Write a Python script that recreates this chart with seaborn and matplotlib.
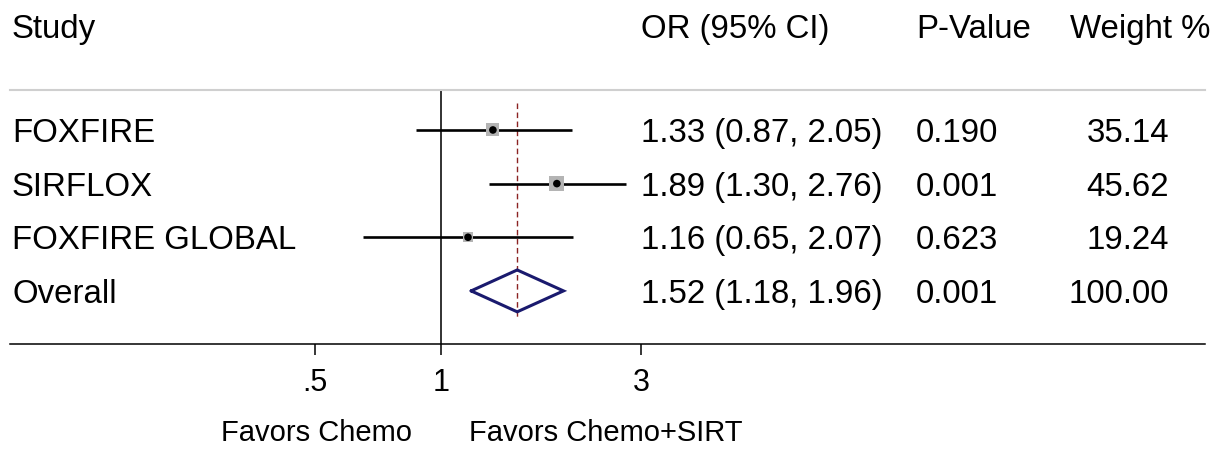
import numpy as np
import pandas as pd
import matplotlib
matplotlib.use("Agg")
import matplotlib.pyplot as plt
import matplotlib.transforms as mtransforms
import seaborn as sns

# ---- data ----
studies = ["FOXFIRE", "SIRFLOX", "FOXFIRE GLOBAL"]
or_est = [1.33, 1.89, 1.16]
ci_low = [0.87, 1.30, 0.65]
ci_high = [2.05, 2.76, 2.07]
p_values = ["0.190", "0.001", "0.623"]
weights = [35.14, 45.62, 19.24]

overall_label = "Overall"
overall_est = 1.52
overall_low = 1.18
overall_high = 1.96
overall_p = "0.001"
overall_weight = 100.00

headers = ["Study", "OR (95% CI)", "P-Value", "Weight %"]
tick_values = [0.5, 1, 3]
tick_labels = [".5", "1", "3"]
left_note = "Favors Chemo"
right_note = "Favors Chemo+SIRT"

# ---- figure ----
W, H, DPI = 1225, 454, 100
sns.set_theme(style="white")
plt.rcParams["font.family"] = ["Liberation Sans", "DejaVu Sans"]
plt.rcParams["text.color"] = "black"
plt.rcParams["xtick.color"] = "black"
plt.rcParams["xtick.labelcolor"] = "black"
fig = plt.figure(figsize=(W / DPI, H / DPI), dpi=DPI)

ax_left, ax_right, ax_top, ax_bot = 10, 1205, 90, 344
ax = fig.add_axes([ax_left / W, 1 - ax_bot / H, (ax_right - ax_left) / W, (ax_bot - ax_top) / H])

df = pd.DataFrame({"study": studies, "est": or_est, "lo": ci_low, "hi": ci_high,
                   "w": weights, "row": np.arange(1, len(studies) + 1)})
overall_row = len(studies) + 1

ax.set_xscale("log")
px_per_ln = 182.0
x_one_px = 441.0
ax.set_xlim(np.exp((ax_left - x_one_px) / px_per_ln), np.exp((ax_right - x_one_px) / px_per_ln))
ax.set_ylim(4.99, 0.255)

# confidence intervals
for _, r in df.iterrows():
    ax.plot([r.lo, r.hi], [r.row, r.row], color="black", lw=1.9, solid_capstyle="butt", zorder=2)

# weight squares (side in px ~ 2.2*sqrt(w))
areas = {w: (2.2 * np.sqrt(w) * 0.72) ** 2 for w in weights}
sns.scatterplot(data=df, x="est", y="row", size="w", sizes=areas, marker="s",
                color="#b4b4b4", edgecolor="none", legend=False, ax=ax, zorder=3)
sns.scatterplot(data=df, x="est", y="row", s=30, color="black", edgecolor="none",
                legend=False, ax=ax, zorder=4)

# overall diamond
hh = 0.39
ax.plot([overall_low, overall_est, overall_high, overall_est, overall_low],
        [overall_row, overall_row - hh, overall_row, overall_row + hh, overall_row],
        color="#1a1a6e", lw=2.2, zorder=4, solid_joinstyle="miter")

# reference lines
ax.axvline(1, color="#222222", lw=1.3, zorder=1)
ax.plot([overall_est, overall_est], [0.5, 4.48], color="#8b2323", lw=1.0,
        dashes=(4, 2.5), zorder=1)

# spines
for s in ["left", "right"]:
    ax.spines[s].set_visible(False)
ax.spines["top"].set_color("#cfcfcf")
ax.spines["top"].set_linewidth(1.5)
ax.spines["bottom"].set_color("black")
ax.spines["bottom"].set_linewidth(1.1)

ax.set_xticks(tick_values)
ax.set_xticklabels(tick_labels)
ax.xaxis.set_minor_locator(matplotlib.ticker.NullLocator())
ax.tick_params(axis="x", direction="out", length=8, width=1.1, color="black",
               labelcolor="black", labelsize=22, pad=9, bottom=True)
ax.set_yticks([])
ax.set_xlabel("")
ax.set_ylabel("")

# text columns (x in figure pixels, y in data; baseline 13 px below row centre)
def px(x):
    return x / W

trans = mtransforms.blended_transform_factory(fig.transFigure, ax.transData)
trans = mtransforms.offset_copy(trans, fig=fig, y=-12, units="dots")
fs = 23.8
all_labels = studies + [overall_label]
all_or = [f"{e:.2f} ({l:.2f}, {h:.2f})" for e, l, h in zip(or_est, ci_low, ci_high)] + \
         [f"{overall_est:.2f} ({overall_low:.2f}, {overall_high:.2f})"]
all_p = p_values + [overall_p]
all_w = [f"{w:.2f}" for w in weights] + [f"{overall_weight:.2f}"]
for i in range(len(all_labels)):
    y = i + 1
    ax.text(px(12), y, all_labels[i], transform=trans, ha="left", va="baseline", fontsize=fs)
    ax.text(px(641), y, all_or[i], transform=trans, ha="left", va="baseline", fontsize=fs)
    ax.text(px(916), y, all_p[i], transform=trans, ha="left", va="baseline", fontsize=fs)
    ax.text(px(1169), y, all_w[i], transform=trans, ha="right", va="baseline", fontsize=fs)

# headers
hy = 1 - 38 / H
fig.text(px(12), hy, headers[0], ha="left", va="baseline", fontsize=fs)
fig.text(px(641), hy, headers[1], ha="left", va="baseline", fontsize=fs)
fig.text(px(916), hy, headers[2], ha="left", va="baseline", fontsize=fs)
fig.text(px(1210), hy, headers[3], ha="right", va="baseline", fontsize=fs)

# favors notes
ny = 1 - 441 / H
fig.text(px(412), ny, left_note, ha="right", va="baseline", fontsize=21)
fig.text(px(469), ny, right_note, ha="left", va="baseline", fontsize=21)

fig.savefig("out.png", dpi=DPI)
